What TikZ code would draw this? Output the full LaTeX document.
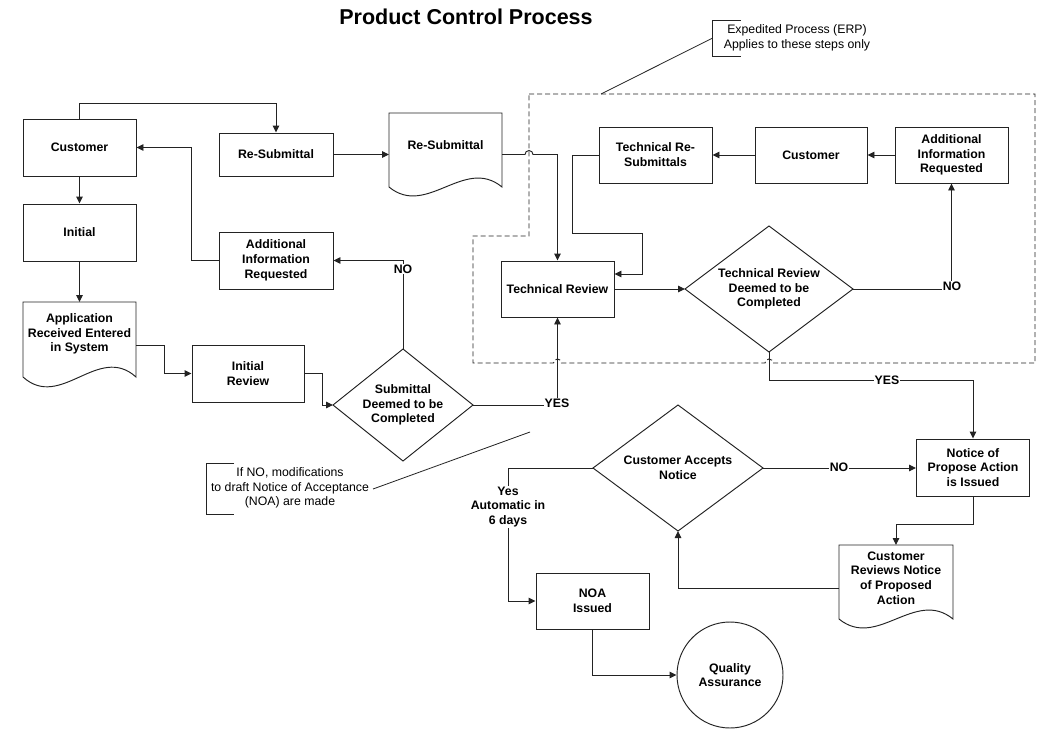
\documentclass[tikz,border=0pt]{standalone}
\usepackage{fontspec}
\setmainfont{Liberation Sans}
\usetikzlibrary{arrows.meta,calc}
\definecolor{lc}{RGB}{35,35,35}
\tikzset{
  every node/.style={font=\fontsize{12.3}{14.8}\selectfont\bfseries},
  box/.style={draw=lc, line width=0.95pt, align=center, inner sep=0pt, minimum width=113pt, minimum height=56pt},
  hold/.style={align=center, inner sep=0pt, outer sep=0pt, draw=none},
  ln/.style={draw=lc, line width=0.95pt},
  arr/.style={draw=lc, line width=0.95pt, -{Triangle[length=7pt,width=6.5pt]}},
  lbl/.style={fill=white, inner sep=1pt},
  note/.style={font=\fontsize{12.3}{14.5}\selectfont, align=center, inner sep=0pt},
  brk/.style={draw=lc, line width=0.8pt},
  erp/.style={draw=lc, line width=0.95pt, dash pattern=on 5pt off 3pt},
}
\newcommand{\docoutline}[2]{%
  \draw[ln] (#1.south west) -- (#1.north west) -- (#1.north east) -- (#1.south east)
    .. controls ($(#1.south east)!0.333!(#1.south west)+(0,-#2)$) and ($(#1.south east)!0.667!(#1.south west)+(0,#2)$) .. (#1.south west);}
\begin{document}
\begin{tikzpicture}[x=1pt,y=-1pt]
\path[fill=white] (0,0) rectangle (1043,728);
\useasboundingbox (0,0) rectangle (1043,728);

% title
\node[font=\fontsize{21.5}{24}\selectfont\bfseries] (title) at (466,17) {Product Control Process};

% left column
\node[box, minimum height=57pt] (cust1) at (79.5,147.5) {Customer};
\node[box, minimum height=57pt] (init) at (79.5,232.5) {Initial};
\node[hold, minimum width=113pt, minimum height=75pt] (app) at (79.5,339.5) {};
\docoutline{app}{34}
\node[hold] (appT) at (79.5,334) {Application\\Received Entered\\in System};

\node[box, minimum width=114pt, minimum height=43pt] (resub) at (276,154.5) {Re-Submittal};
\node[hold, minimum width=113pt, minimum height=74pt] (resubdoc) at (445.5,150) {};
\docoutline{resubdoc}{31}
\node[hold] (resubdocT) at (445.5,145) {Re-Submittal};
\node[box, minimum width=114pt, minimum height=57pt] (add1) at (276,260.5) {Additional\\Information\\Requested};
\node[box, minimum width=112pt, minimum height=57pt] (irev) at (248,373.5) {Initial\\Review};
\node[hold, minimum width=140pt, minimum height=112pt] (subd) at (403,405) {Submittal\\Deemed to be\\Completed};
\draw[ln] (subd.north) -- (subd.east) -- (subd.south) -- (subd.west) -- cycle;

% expedited region
\node[box] (trev) at (557.5,289) {Technical Review};
\node[box] (trs) at (655.5,155) {Technical Re-\\Submittals};
\node[box, minimum width=112pt] (cust2) at (811,155) {Customer};
\node[box] (add2) at (951.5,155) {Additional\\Information\\Requested};
\node[hold, minimum width=168pt, minimum height=126pt] (trd) at (769,289) {Technical Review\\Deemed to be\\Completed};
\draw[ln] (trd.north) -- (trd.east) -- (trd.south) -- (trd.west) -- cycle;

\draw[erp] (529,94) -- (1035,94) -- (1035,363) -- (773,363) arc[start angle=0,end angle=180,radius=4pt]
  -- (561.5,363) arc[start angle=0,end angle=180,radius=4pt] -- (473,363) -- (473,236) -- (529,236) -- cycle;

% lower right
\node[box, minimum height=57pt] (notice) at (973,467.5) {Notice of\\Propose Action\\is Issued};
\node[hold, minimum width=170pt, minimum height=126pt] (cad) at (678,468) {Customer Accepts\\Notice};
\draw[ln] (cad.north) -- (cad.east) -- (cad.south) -- (cad.west) -- cycle;
\node[hold, minimum width=114pt, minimum height=74pt] (crdoc) at (896,582) {};
\docoutline{crdoc}{31}
\node[hold] (crdocT) at (896,578) {Customer\\Reviews Notice\\of Proposed\\Action};
\node[box] (noa) at (592.5,601) {NOA\\Issued};
\node[draw=lc, circle, line width=0.95pt, minimum size=106pt, inner sep=0pt, align=center] (qa) at (730,675) {Quality\\Assurance};

% connectors
\draw[arr] (cust1.north) -- ++(0,-15) -| (resub.north);
\draw[arr] (cust1.south) -- (init.north);
\draw[arr] (init.south) -- (app.north);
\draw[arr] ($(app.east)+(0,5.5)$) -- ++(28,0) |- (irev.west);
\draw[arr] (irev.east) -- ++(18,0) |- (subd.west);
\draw[arr] (add1.west) -- ++(-27,0) |- (cust1.east);
\draw[arr] (resub.east) -- (resub.east -| resubdoc.west);
\draw[arr] (resubdoc.east |- resub.east) -- (525,154.5) arc[start angle=180,end angle=0,radius=4pt] -| (trev.north);
\draw[arr] (subd.north) |- (add1.east);
\draw[arr] (subd.east) -| (trev.south);
\coordinate (tA) at (572,233);
\coordinate (tB) at (642,274);
\draw[arr] (trs.west) -| (tA) -| (tB) -- (tB -| trev.east);
\draw[arr] (cust2.west) -- (trs.east);
\draw[arr] (add2.west) -- (cust2.east);
\draw[arr] (trev.east) -- (trd.west);
\draw[arr] (trd.east) -| (add2.south);
\draw[arr] (trd.south) -- ++(0,28) -| (notice.north);
\draw[arr] (cad.east) -- (cad.east -| notice.west);
\draw[arr] (notice.south) -- ++(0,28) -| (crdoc.north);
\draw[arr] ($(crdoc.west)+(0,6)$) -| (cad.south);
\draw[arr] (cad.west) -- ++(-85,0) |- (noa.west);
\draw[arr] (noa.south) |- (qa.west);

% connector labels
\node[lbl] (lNO1) at (403,269) {NO};
\node[lbl] (lYES1) at (557,403) {YES};
\node[lbl] (lNO2) at (952,286) {NO};
\node[lbl] (lYES2) at (887,380) {YES};
\node[lbl] (lNO3) at (839,467) {NO};
\node[lbl, align=center] (lYES3) at (508,507) {Yes\\Automatic in\\6 days};

% annotations
\node[note] (erpT) at (797,38) {Expedited Process (ERP)\\Applies to these steps only};
\draw[brk] (740.7,20) -- (712.7,20) -- (712.7,56.7) -- (740.7,56.7);
\coordinate (erpB) at (712.7,38);
\coordinate (erpE) at (601,94);
\draw[brk] (erpB) -- (erpE);

\node[note] (nomT) at (290,488) {If NO, modifications\\to draft Notice of Acceptance\\(NOA) are made};
\draw[brk] (234,463) -- (206,463) -- (206,514) -- (234,514);
\coordinate (nomB) at (373,489);
\coordinate (nomE) at (530,432);
\draw[brk] (nomB) -- (nomE);
\end{tikzpicture}
\end{document}
